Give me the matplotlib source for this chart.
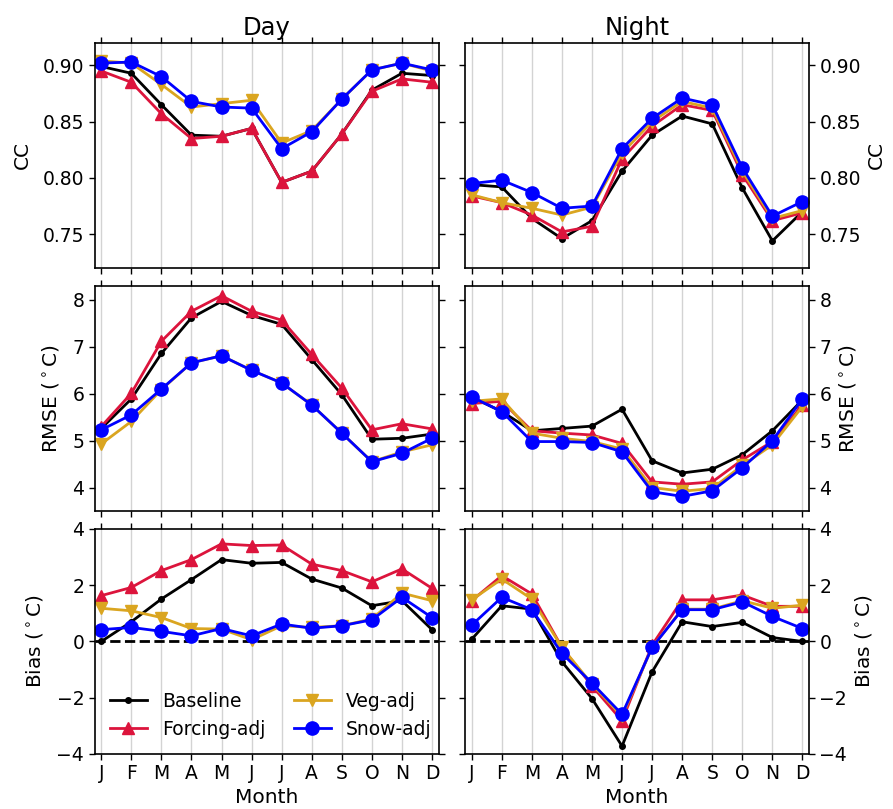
import matplotlib
matplotlib.use("Agg")
import matplotlib.pyplot as plt
import numpy as np

months = ["J", "F", "M", "A", "M", "J", "J", "A", "S", "O", "N", "D"]

# CC
cc_day_base = [0.899, 0.893, 0.865, 0.838, 0.837, 0.844, 0.796, 0.806, 0.839, 0.878, 0.893, 0.891]
cc_day_forc = [0.895, 0.885, 0.857, 0.835, 0.837, 0.844, 0.796, 0.806, 0.839, 0.877, 0.888, 0.885]
cc_day_veg = [0.904, 0.902, 0.883, 0.863, 0.866, 0.869, 0.831, 0.842, 0.870, 0.896, 0.902, 0.895]
cc_day_snow = [0.902, 0.903, 0.890, 0.868, 0.863, 0.862, 0.826, 0.841, 0.870, 0.896, 0.902, 0.896]

cc_night_base = [0.794, 0.792, 0.764, 0.746, 0.762, 0.806, 0.838, 0.855, 0.848, 0.791, 0.744, 0.770]
cc_night_forc = [0.784, 0.778, 0.767, 0.752, 0.757, 0.817, 0.846, 0.865, 0.860, 0.803, 0.762, 0.769]
cc_night_veg = [0.785, 0.778, 0.773, 0.767, 0.774, 0.822, 0.850, 0.868, 0.862, 0.806, 0.764, 0.771]
cc_night_snow = [0.795, 0.798, 0.787, 0.773, 0.775, 0.826, 0.853, 0.871, 0.865, 0.809, 0.766, 0.779]

# RMSE
rmse_day_base = [5.26, 5.89, 6.86, 7.62, 7.97, 7.67, 7.48, 6.73, 5.98, 5.03, 5.05, 5.14]
rmse_day_forc = [5.30, 6.01, 7.12, 7.76, 8.09, 7.76, 7.57, 6.84, 6.12, 5.23, 5.36, 5.25]
rmse_day_veg = [4.93, 5.41, 6.09, 6.66, 6.81, 6.50, 6.23, 5.76, 5.16, 4.55, 4.76, 4.91]
rmse_day_snow = [5.23, 5.55, 6.10, 6.66, 6.81, 6.50, 6.23, 5.76, 5.16, 4.55, 4.73, 5.05]

rmse_night_base = [5.93, 5.62, 5.21, 5.26, 5.31, 5.67, 4.57, 4.31, 4.39, 4.70, 5.21, 5.87]
rmse_night_forc = [5.79, 5.84, 5.21, 5.16, 5.12, 4.94, 4.12, 4.07, 4.12, 4.59, 4.98, 5.76]
rmse_night_veg = [5.84, 5.89, 5.16, 5.05, 4.98, 4.82, 4.00, 3.92, 3.98, 4.47, 4.91, 5.73]
rmse_night_snow = [5.93, 5.62, 4.98, 4.98, 4.96, 4.76, 3.91, 3.81, 3.93, 4.42, 5.00, 5.89]

# Bias
bias_day_base = [0.00, 0.70, 1.51, 2.20, 2.91, 2.78, 2.81, 2.22, 1.90, 1.27, 1.45, 0.42]
bias_day_forc = [1.63, 1.92, 2.52, 2.91, 3.47, 3.41, 3.43, 2.75, 2.52, 2.12, 2.58, 1.89]
bias_day_veg = [1.18, 1.09, 0.85, 0.46, 0.44, 0.06, 0.56, 0.50, 0.56, 0.80, 1.72, 1.45]
bias_day_snow = [0.42, 0.50, 0.36, 0.20, 0.46, 0.20, 0.62, 0.47, 0.56, 0.77, 1.57, 0.85]

bias_night_base = [0.08, 1.27, 1.15, -0.72, -2.03, -3.72, -1.08, 0.70, 0.53, 0.68, 0.14, 0.00]
bias_night_forc = [1.45, 2.34, 1.69, -0.21, -1.58, -2.82, -0.13, 1.48, 1.48, 1.65, 1.25, 1.25]
bias_night_veg = [1.48, 2.22, 1.51, -0.21, -1.52, -2.65, -0.21, 1.15, 1.15, 1.45, 1.18, 1.29]
bias_night_snow = [0.58, 1.57, 1.13, -0.42, -1.48, -2.59, -0.21, 1.13, 1.13, 1.41, 0.89, 0.46]

labels = ["Baseline", "Forcing-adj", "Veg-adj", "Snow-adj"]
colors = ["black", "#DC143C", "#DAA520", "blue"]
markers = ["o", "^", "v", "o"]
msizes = [4, 8.5, 8.5, 9.5]

panels = [
    [(cc_day_base, cc_day_forc, cc_day_veg, cc_day_snow),
     (cc_night_base, cc_night_forc, cc_night_veg, cc_night_snow)],
    [(rmse_day_base, rmse_day_forc, rmse_day_veg, rmse_day_snow),
     (rmse_night_base, rmse_night_forc, rmse_night_veg, rmse_night_snow)],
    [(bias_day_base, bias_day_forc, bias_day_veg, bias_day_snow),
     (bias_night_base, bias_night_forc, bias_night_veg, bias_night_snow)],
]
ylabels = ["CC", r"RMSE ($^\circ$C)", r"Bias ($^\circ$C)"]
ylims = [(0.72, 0.92), (3.5, 8.3), (-4, 4)]
yticks = [[0.75, 0.80, 0.85, 0.90], [4, 5, 6, 7, 8], [-4, -2, 0, 2, 4]]

fig, ax = plt.subplots(3, 2, figsize=(8.93, 8.09), dpi=100)
fig.subplots_adjust(left=0.106, right=0.906, top=0.947, bottom=0.068,
                    hspace=0.08, wspace=0.077)

x = np.arange(12)
for r in range(3):
    for c in range(2):
        a = ax[r, c]
        for i in range(4):
            a.plot(x, panels[r][c][i], color=colors[i], marker=markers[i],
                   markersize=msizes[i], linewidth=2, label=labels[i])
        if r == 2:
            a.axhline(0, color="black", linestyle="--", linewidth=2, zorder=1)
        a.set_xlim(-0.22, 11.22)
        a.set_ylim(ylims[r])
        a.set_yticks(yticks[r])
        if r == 0:
            a.set_yticklabels(["%.2f" % v for v in yticks[r]])
        a.set_xticks(x)
        a.grid(axis="x", color="lightgray", linewidth=1)
        a.set_axisbelow(True)
        a.tick_params(direction="out", length=4, width=1, labelsize=13.5,
                      top=True, right=True, bottom=True, left=True)
        if c == 0:
            a.tick_params(labelleft=True, labelright=False)
            a.set_ylabel(ylabels[r], fontsize=14.5, labelpad=8)
        else:
            a.tick_params(labelleft=False, labelright=True)
            a.yaxis.set_label_position("right")
            a.set_ylabel(ylabels[r], fontsize=14.5)
        if r == 2:
            a.set_xticklabels(months)
            a.set_xlabel("Month", fontsize=14.5, labelpad=3)
        else:
            a.set_xticklabels([])
        for s in a.spines.values():
            s.set_linewidth(1.2)

ax[0, 0].set_title("Day", fontsize=17.5)
ax[0, 1].set_title("Night", fontsize=17.5)

ax[2, 0].legend(loc="lower left", ncol=2, frameon=False, fontsize=13.5,
                columnspacing=1.5, handlelength=2.0, borderaxespad=0.4)

plt.savefig("out.png", dpi=100)
